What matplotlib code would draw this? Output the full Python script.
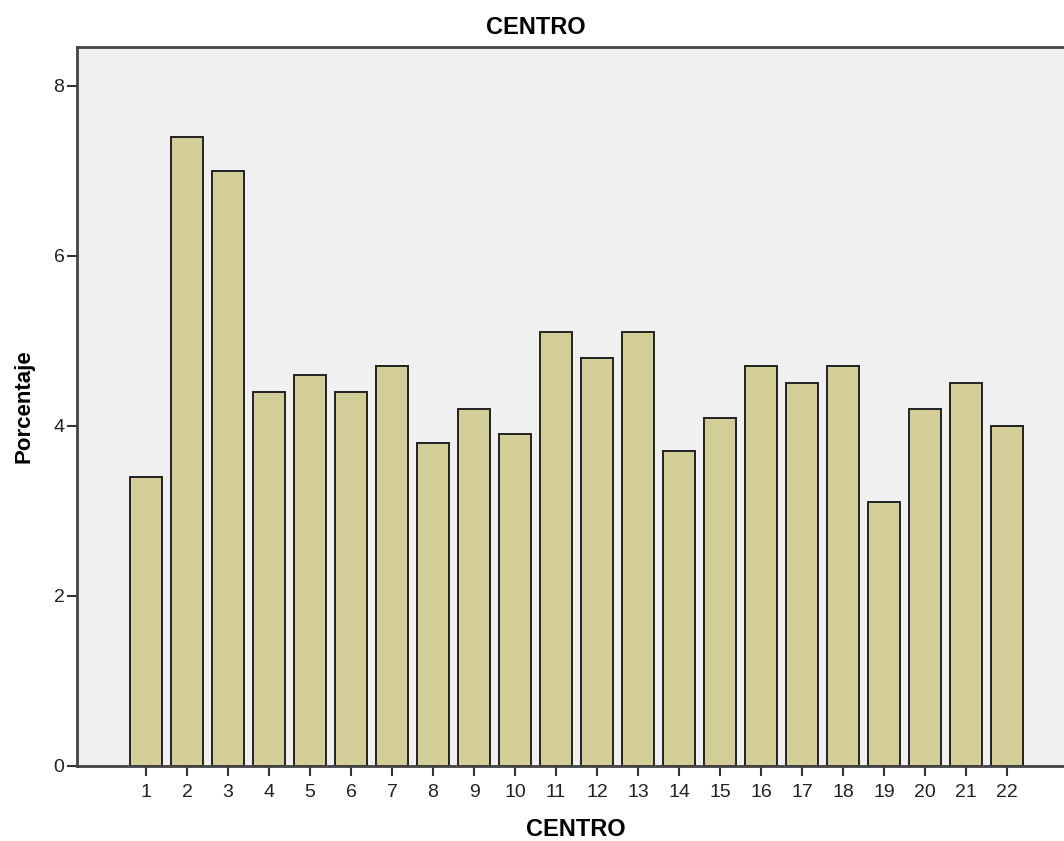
import matplotlib
matplotlib.use("Agg")
import matplotlib.pyplot as plt

# Percentage of cases per centre
centros = [str(i) for i in range(1, 23)]
porcentaje = [3.4, 7.4, 7.0, 4.4, 4.6, 4.4, 4.7, 3.8, 4.2, 3.9, 5.1,
              4.8, 5.1, 3.7, 4.1, 4.7, 4.5, 4.7, 3.1, 4.2, 4.5, 4.0]
y_ticks = [0, 2, 4, 6, 8]

plt.rcParams['font.family'] = ['Liberation Sans', 'DejaVu Sans']

W, H = 1064, 841
fig = plt.figure(figsize=(W / 100, H / 100), dpi=100)
fig.patch.set_facecolor('white')

left, right, bottom, top = 77, 1075, 766, 47
ax = fig.add_axes([left / W, (H - bottom) / H, (right - left) / W, (bottom - top) / H])
ax.set_facecolor('#F0F0F0')

pos = list(range(1, len(centros) + 1))
ax.bar(pos, porcentaje, width=0.76, color='#D3CE97', edgecolor='#222222',
       linewidth=1.4, zorder=2)

ax.set_xlim(1 - (146 - left) / 41.0, 1 + (right - 146) / 41.0)
ax.set_ylim(0, 8 + (86 - top) / 85.0)

ax.set_xticks(pos)
ax.set_xticklabels(centros)
ax.set_yticks(y_ticks)
ax.set_yticklabels([str(v) for v in y_ticks])
ax.tick_params(axis='both', labelsize=14, length=7, width=1.5,
               color='#333333', labelcolor='#222222', direction='out')
ax.tick_params(axis='x', pad=6)
ax.tick_params(axis='y', pad=2)

for s in ['left', 'bottom', 'top']:
    ax.spines[s].set_color('#444444')
    ax.spines[s].set_linewidth(2)
ax.spines['right'].set_visible(False)

ax.set_ylabel('Porcentaje', fontsize=16, fontweight='bold', labelpad=14)
ax.set_xlabel('CENTRO', fontsize=17, fontweight='bold', labelpad=12)
fig.text(536 / W, 1 - 28 / H, 'CENTRO', fontsize=17, fontweight='bold',
         ha='center', va='center')

fig.savefig('out.png', dpi=100)
